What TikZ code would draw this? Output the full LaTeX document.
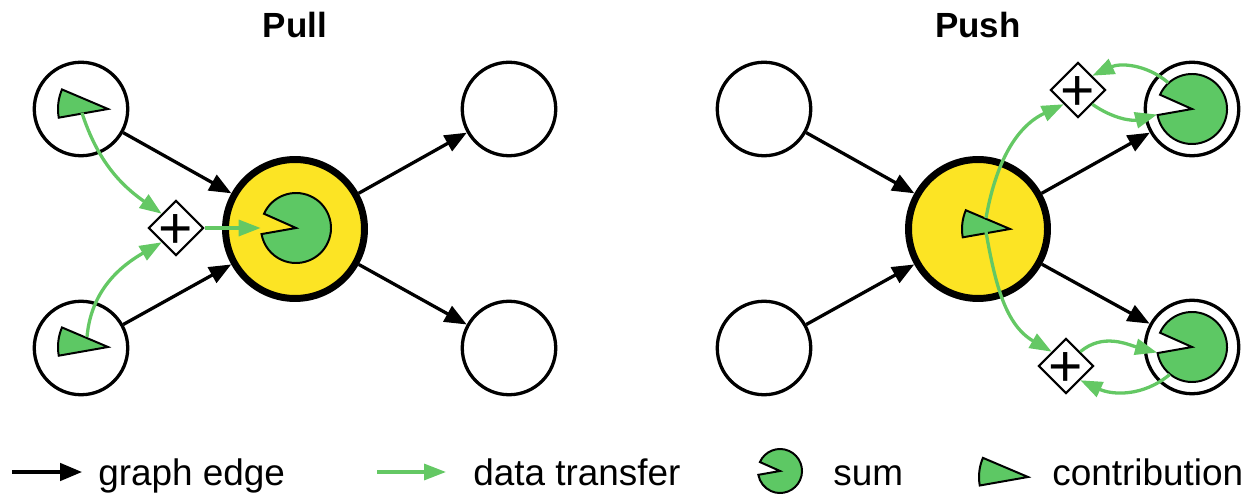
\documentclass[tikz,border=0pt]{standalone}
\usepackage{fontspec}
\setmainfont{Liberation Sans}
\usetikzlibrary{arrows.meta,positioning,shapes.geometric,calc}
\definecolor{hubyellow}{HTML}{FCE424}
\definecolor{sumgreen}{HTML}{5DC864}
\definecolor{flowgreen}{HTML}{64C864}
\tikzset{
  vertex/.style={circle,draw,line width=1.87pt,minimum size=1.87cm,inner sep=0pt},
  hub/.style={circle,draw,line width=3.97pt,fill=hubyellow,minimum size=2.78cm,inner sep=0pt},
  sumslot/.style={circle,inner sep=0pt,minimum size=1.4cm},
  plusbox/.style={diamond,draw,line width=1.2pt,fill=white,minimum size=1.1cm,inner sep=0pt},
  plussign/.style={font=\fontsize{33.5}{34}\selectfont,inner sep=0pt,text height=23.7pt,text depth=0pt},
  piece/.style={draw,line width=1.13pt,fill=sumgreen,line join=miter},
  edge/.style={-{Triangle[length=0.44cm,width=0.35cm]},line width=1.87pt},
  flow/.style={-{Triangle[length=0.44cm,width=0.32cm]},line width=1.87pt,flowgreen},
  title/.style={font=\fontsize{19.9}{24}\bfseries\selectfont,anchor=base},
  keytext/.style={font=\fontsize{21}{25}\selectfont,anchor=base west,inner sep=0pt}
}
% sum: a disc with a slice cut out
\newcommand{\sumpie}[2]{%
  \filldraw[piece] (#1.center) -- ++(156:#2) arc[start angle=156,end angle=-170,radius=#2] -- cycle;}
% contribution: the slice itself
\newcommand{\contribpie}[2]{%
  \filldraw[piece] (#1) -- ++(157:#2) arc[start angle=157,end angle=190,radius=#2] -- cycle;}

\begin{document}
\begin{tikzpicture}[x=0.02cm,y=0.02cm]
  \useasboundingbox (0,0) rectangle (1256,497);

  % Pull
  \node[title] (pulltitle) at (295,459) {Pull};
  \node[vertex] (pullinA) at (81,388) {};
  \node[vertex] (pullinB) at (81,149) {};
  \node[hub] (pullhub) at (295,268) {};
  \node[vertex] (pulloutA) at (509,388) {};
  \node[vertex] (pulloutB) at (509,149) {};
  \draw[edge] (pullinA) -- (pullhub);
  \draw[edge] (pullinB) -- (pullhub);
  \draw[edge] (pullhub) -- (pulloutA);
  \draw[edge] (pullhub) -- (pulloutB);
  \node[sumslot] (pullsum) at (296,269) {};
  \sumpie{pullsum}{35}
  \node[plusbox,label={[plussign]center:+}] (pullplus) at (176,269) {};
  \coordinate (pullcontribA) at (108,388);
  \coordinate (pullcontribB) at (108,150);
  \contribpie{pullcontribA}{50}
  \contribpie{pullcontribB}{50}
  \coordinate (pullsrcA) at (82,384);
  \coordinate (pullsrcB) at (87,160);
  \draw[flow] (pullsrcA) to[out=-72,in=145] (pullplus.north west);
  \draw[flow] (pullsrcB) to[out=85,in=-150] (pullplus.south west);
  \draw[flow] (pullplus.east) -- (pullsum.west);

  % Push
  \node[title] (pushtitle) at (978,459) {Push};
  \node[vertex] (pushinA) at (764,388) {};
  \node[vertex] (pushinB) at (764,149) {};
  \node[hub] (pushhub) at (978,268) {};
  \node[vertex] (pushoutA) at (1192,388) {};
  \node[vertex] (pushoutB) at (1192,150) {};
  \draw[edge] (pushinA) -- (pushhub);
  \draw[edge] (pushinB) -- (pushhub);
  \draw[edge] (pushhub) -- (pushoutA);
  \draw[edge] (pushhub) -- (pushoutB);
  \node[sumslot] (pushsumA) at (1192,388) {};
  \node[sumslot] (pushsumB) at (1192,150) {};
  \sumpie{pushsumA}{35}
  \sumpie{pushsumB}{35}
  \node[plusbox,label={[plussign]center:+}] (pushplusA) at (1078,407) {};
  \node[plusbox,label={[plussign]center:+}] (pushplusB) at (1066,131) {};
  \coordinate (pushcontrib) at (1010,268);
  \contribpie{pushcontrib}{48}
  \coordinate (pushsrcA) at (986,279);
  \coordinate (pushsrcB) at (986,265);
  \draw[flow] (pushsrcA) to[out=80,in=205] (pushplusA.south west);
  \draw[flow] (pushsrcB) to[out=-80,in=150] (pushplusB.north west);
  \draw[flow] (pushplusA.south east) to[out=-35,in=195] (pushsumA.189);
  \draw[flow] (pushsumA.132) to[out=140,in=25] (pushplusA.north east);
  \draw[flow] (pushplusB.north east) to[out=40,in=165] (pushsumB.189);
  \draw[flow] (pushsumB.231) to[out=-140,in=-25] (pushplusB.south east);

  % key
  \coordinate (keyedgeA) at (12,25);
  \coordinate (keyedgeB) at (82,25);
  \draw[edge] (keyedgeA) -- (keyedgeB);
  \node[keytext] (keyedge) at (98,12) {graph edge};
  \coordinate (keyflowA) at (377,25);
  \coordinate (keyflowB) at (446,25);
  \draw[flow] (keyflowA) -- (keyflowB);
  \node[keytext] (keyflow) at (473,12) {data transfer};
  \node[sumslot,minimum size=0.88cm] (keysum) at (780,26) {};
  \sumpie{keysum}{22}
  \node[keytext] (keysumtext) at (833,12) {sum};
  \coordinate (keycontrib) at (1028,20);
  \contribpie{keycontrib}{49}
  \node[keytext] (keycontribtext) at (1052,12) {contribution};
\end{tikzpicture}
\end{document}
